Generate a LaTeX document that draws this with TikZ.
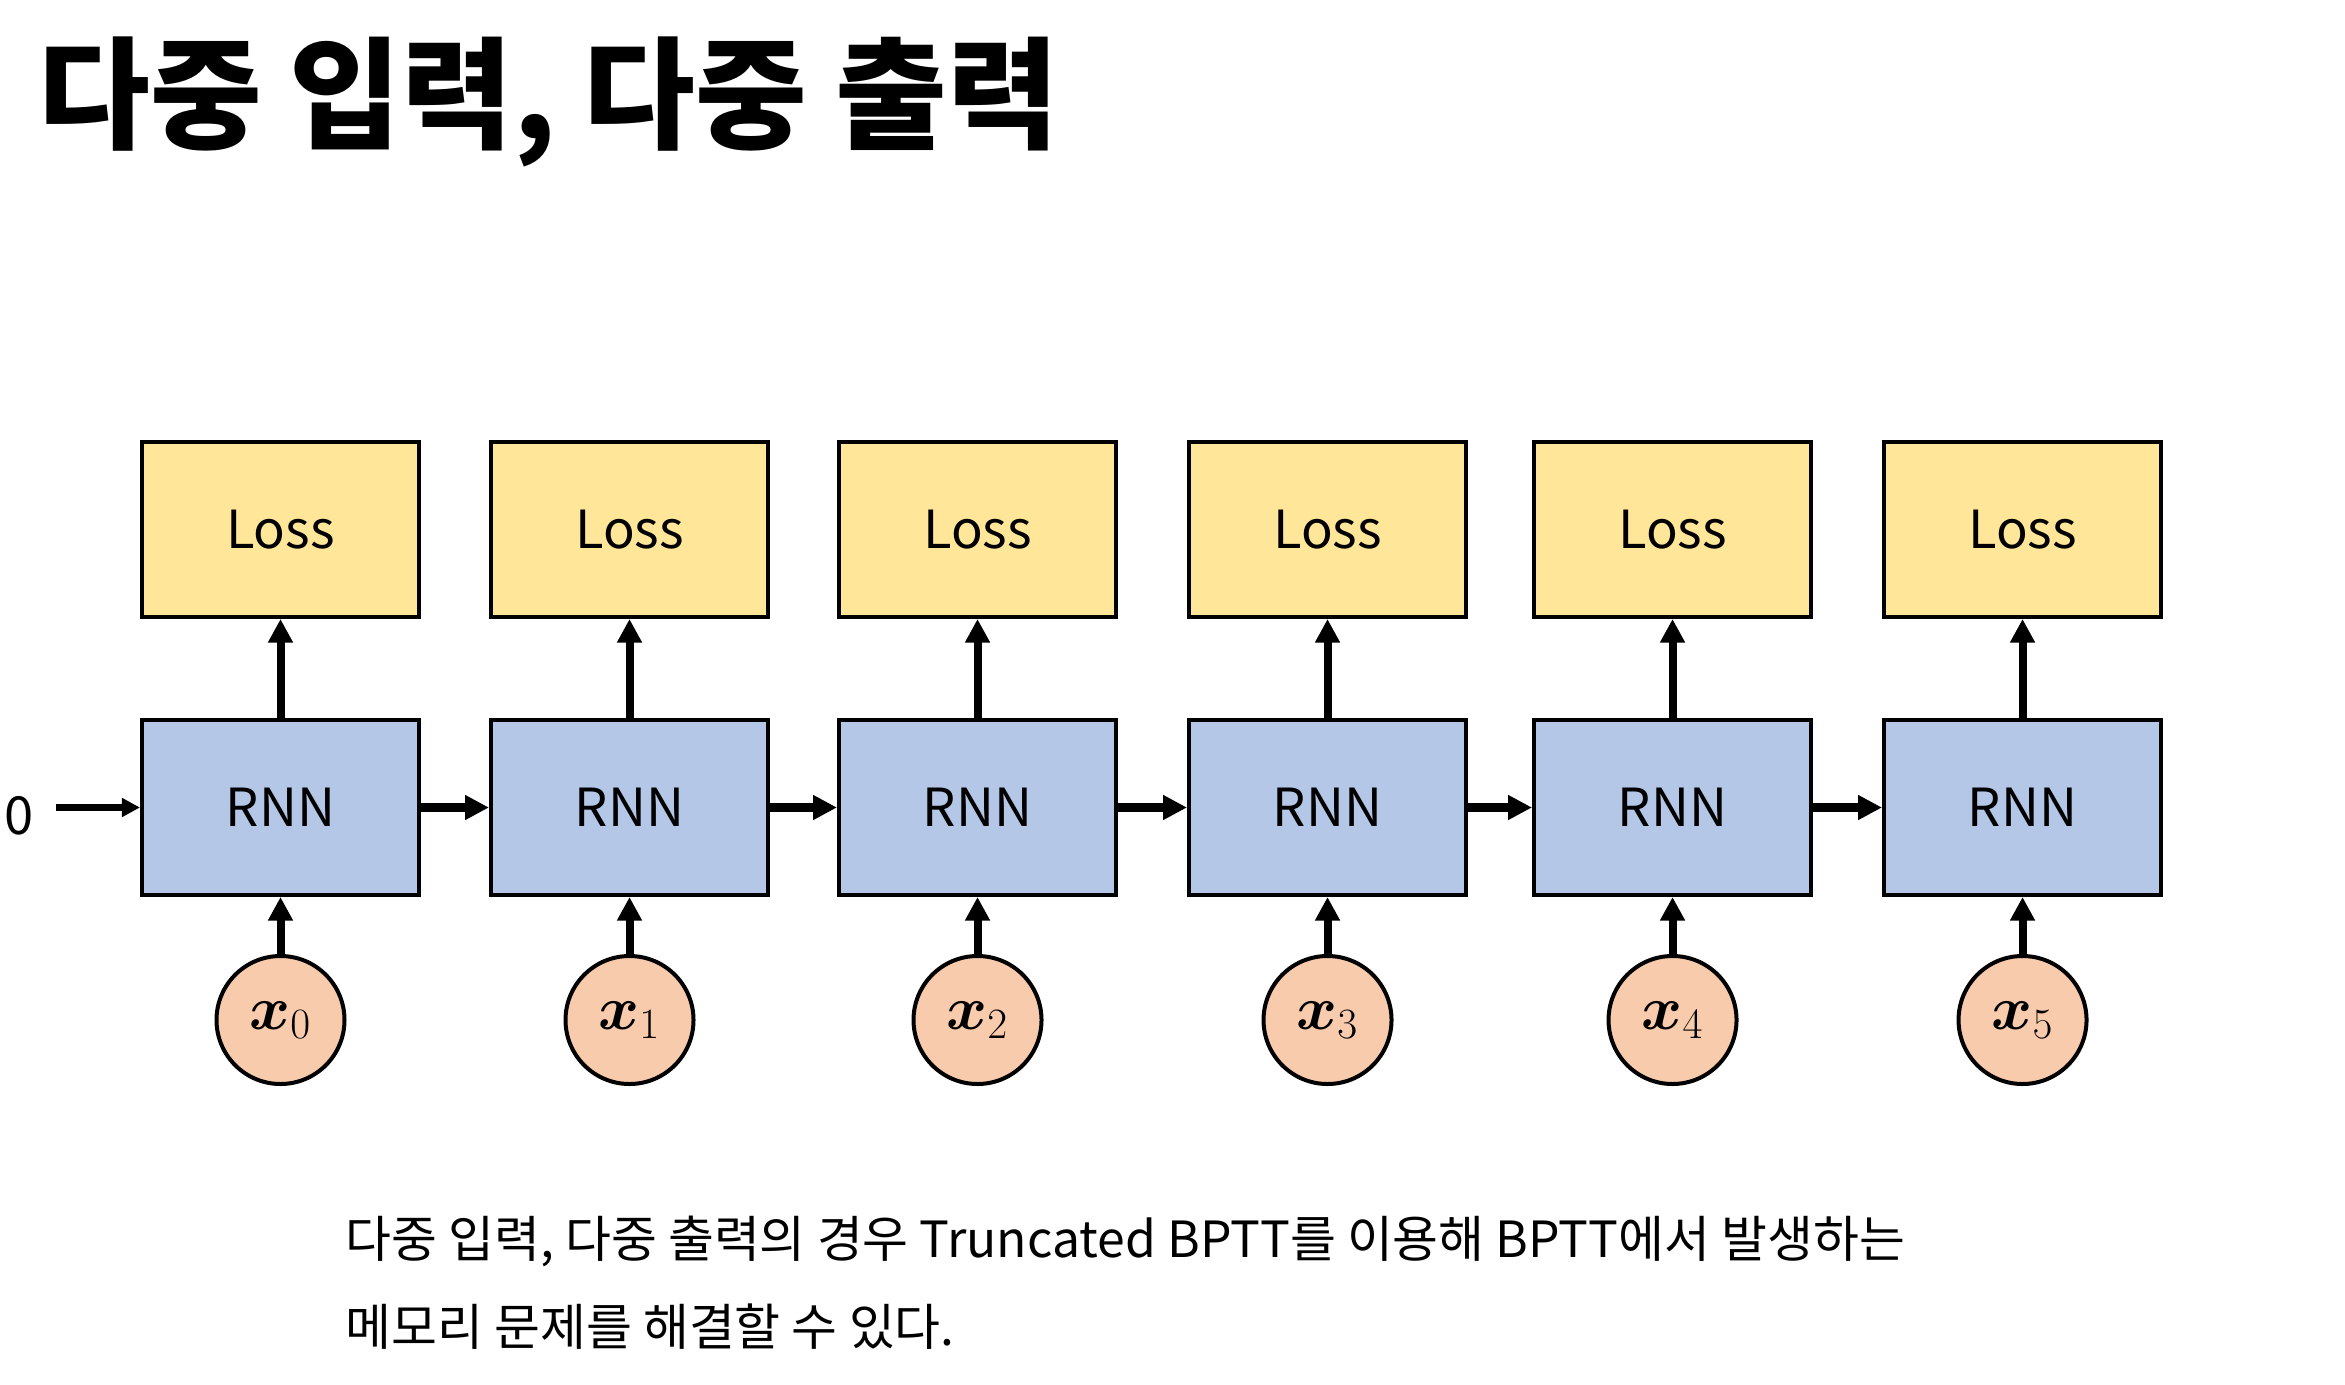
\documentclass[tikz,border=0pt]{standalone}
\usepackage[no-math]{fontspec}
\setmainfont{Noto Sans CJK KR}
\usepackage{bm}
\usetikzlibrary{positioning,arrows.meta}
\definecolor{lossfill}{HTML}{FFE699}
\definecolor{rnnfill}{HTML}{B4C7E7}
\definecolor{xfill}{HTML}{F8CBAD}
\tikzset{
  lossbox/.style={draw,line width=1.6pt,fill=lossfill,minimum width=110.8pt,minimum height=70pt,inner sep=0pt,font=\fontsize{21}{25}\selectfont},
  rnnbox/.style={lossbox,fill=rnnfill},
  xin/.style={circle,draw,line width=1.6pt,fill=xfill,minimum size=51.2pt,inner sep=0pt,font=\fontsize{23}{27}\selectfont},
  lossarrow/.style={-{Triangle[length=9.4pt,width=9.4pt]},line width=3.2pt},
  steparrow/.style={-{Triangle[length=9.6pt,width=9.4pt]},line width=3.6pt},
  inarrow/.style={-{Triangle[length=7.2pt,width=7.2pt]},line width=2.8pt}
}
\begin{document}
\begin{tikzpicture}[x=0.4pt,y=-0.4pt]
    \useasboundingbox (0,0) rectangle (2345,1385);
    \fill[white] (0,0) rectangle (2345,1385);
    \node[anchor=base west,inner sep=0pt,font=\fontsize{48.6}{58}\selectfont\bfseries] (title) at (38,140) {다중 입력, 다중 출력};

    \node[rnnbox] (r0) at (280.5,807.5) {RNN};
    \node[rnnbox,right=27.2pt of r0] (r1) {RNN};
    \node[rnnbox,right=26.8pt of r1] (r2) {RNN};
    \node[rnnbox,right=27.6pt of r2] (r3) {RNN};
    \node[rnnbox,right=25.6pt of r3] (r4) {RNN};
    \node[rnnbox,right=27.6pt of r4] (r5) {RNN};

    \node[lossbox,above=39.6pt of r0] (l0) {Loss};
    \node[lossbox,above=39.6pt of r1] (l1) {Loss};
    \node[lossbox,above=39.6pt of r2] (l2) {Loss};
    \node[lossbox,above=39.6pt of r3] (l3) {Loss};
    \node[lossbox,above=39.6pt of r4] (l4) {Loss};
    \node[lossbox,above=39.6pt of r5] (l5) {Loss};

    \node[xin,below=22.8pt of r0] (x0) {$\bm{x}_0$};
    \node[xin,below=22.8pt of r1] (x1) {$\bm{x}_1$};
    \node[xin,below=22.8pt of r2] (x2) {$\bm{x}_2$};
    \node[xin,below=22.8pt of r3] (x3) {$\bm{x}_3$};
    \node[xin,below=22.8pt of r4] (x4) {$\bm{x}_4$};
    \node[xin,below=22.8pt of r5] (x5) {$\bm{x}_5$};

    \node[inner xsep=8.4pt,inner ysep=0pt,font=\fontsize{21}{25}\selectfont] (zero) at (19.5,816) {0};

    \draw[inarrow] (zero.east |- r0) -- (r0);
    \draw[steparrow] (r0) -- (r1);
    \draw[steparrow] (r1) -- (r2);
    \draw[steparrow] (r2) -- (r3);
    \draw[steparrow] (r3) -- (r4);
    \draw[steparrow] (r4) -- (r5);
    \draw[lossarrow] (r0) -- (l0);
    \draw[lossarrow] (r1) -- (l1);
    \draw[lossarrow] (r2) -- (l2);
    \draw[lossarrow] (r3) -- (l3);
    \draw[lossarrow] (r4) -- (l4);
    \draw[lossarrow] (r5) -- (l5);
    \draw[lossarrow] (x0) -- (r0);
    \draw[lossarrow] (x1) -- (r1);
    \draw[lossarrow] (x2) -- (r2);
    \draw[lossarrow] (x3) -- (r3);
    \draw[lossarrow] (x4) -- (r4);
    \draw[lossarrow] (x5) -- (r5);

    \node[anchor=base west,inner sep=0pt,font=\fontsize{19.95}{24}\selectfont] (note1) at (345,1257) {다중 입력, 다중 출력의 경우 Truncated BPTT를 이용해 BPTT에서 발생하는};
    \node[anchor=base west,inner sep=0pt,font=\fontsize{19.95}{24}\selectfont] (note2) at (345,1345) {메모리 문제를 해결할 수 있다.};
\end{tikzpicture}
\end{document}
